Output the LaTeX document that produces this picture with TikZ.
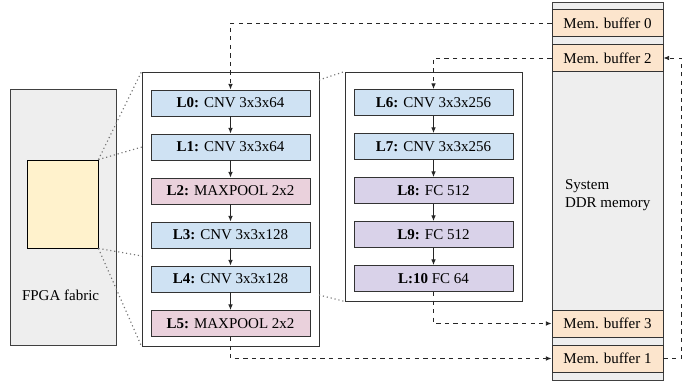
\documentclass[tikz,border=0pt]{standalone}
\usepackage{fontspec}
\setmainfont{Liberation Serif}
\usepackage{tikz}
\usetikzlibrary{arrows.meta,positioning,calc}
\definecolor{cnvblue}{HTML}{CFE2F3}
\definecolor{poolpink}{HTML}{EAD1DC}
\definecolor{fcpurple}{HTML}{D9D2E9}
\definecolor{bufpeach}{HTML}{FCE5CD}
\definecolor{chipyellow}{HTML}{FFF2CC}
\definecolor{fabricgray}{HTML}{EEEEEE}

\begin{document}
\begin{tikzpicture}[x=0.7pt,y=-0.7pt,
    txt/.style={font=\fontsize{10.5}{12.5}\selectfont},
    layer/.style={txt,draw=black!80,semithick,minimum width=111.3pt,minimum height=18.2pt,inner sep=0pt},
    membuf/.style={txt,draw=black!80,semithick,fill=bufpeach,minimum width=77.7pt,minimum height=18.9pt,inner sep=0pt},
    flow/.style={-{Latex[length=4pt,width=3.2pt]},semithick,black!85},
    xfer/.style={flow,dashed},
    zoomline/.style={dotted,thick,black!55}]
    \useasboundingbox (0,0) rectangle (699,385);
    \node[draw=black!75,semithick,fill=fabricgray,minimum width=74.2pt,minimum height=179.2pt] (fabric) at (63,217) {};
    \node[txt,anchor=west] (fabriclbl) at (17,295) {FPGA fabric};
    \node[draw=black,semithick,fill=chipyellow,minimum width=49.7pt,minimum height=61.6pt] (chip) at (62.5,204) {};
    \node[draw=black!80,semithick,minimum width=123.9pt,minimum height=191.8pt] (leftbox) at (230.5,209) {};
    \node[draw=black!80,semithick,minimum width=123.9pt,minimum height=160.3pt] (rightbox) at (433.5,186.5) {};
    \node[draw=black!75,semithick,fill=fabricgray,minimum width=77.7pt,minimum height=264.6pt] (ddr) at (607.5,191) {};
    \node[txt,anchor=west,align=left] (ddrlbl) at (560,195) {System\\DDR memory};

    \node[layer,fill=cnvblue] (L0) at (230.5,103) {\textbf{L0:} CNV 3x3x64};
    \node[layer,fill=cnvblue] (L1) at (230.5,147) {\textbf{L1:} CNV 3x3x64};
    \node[layer,fill=poolpink] (L2) at (230.5,191) {\textbf{L2:} MAXPOOL 2x2};
    \node[layer,fill=cnvblue] (L3) at (230.5,235) {\textbf{L3:} CNV 3x3x128};
    \node[layer,fill=cnvblue] (L4) at (230.5,279) {\textbf{L4:} CNV 3x3x128};
    \node[layer,fill=poolpink] (L5) at (230.5,323.5) {\textbf{L5:} MAXPOOL 2x2};
    \node[layer,fill=cnvblue] (L6) at (433.5,102.5) {\textbf{L6:} CNV 3x3x256};
    \node[layer,fill=cnvblue] (L7) at (433.5,146.5) {\textbf{L7:} CNV 3x3x256};
    \node[layer,fill=fcpurple] (L8) at (433.5,190.5) {\textbf{L8:} FC 512};
    \node[layer,fill=fcpurple] (L9) at (433.5,234.5) {\textbf{L9:} FC 512};
    \node[layer,fill=fcpurple] (L10) at (433.5,278.5) {\textbf{L:10} FC 64};

    \node[membuf] (mb0) at (607.5,23) {Mem. buffer 0};
    \node[membuf] (mb2) at (607.5,58) {Mem. buffer 2};
    \node[membuf] (mb3) at (607.5,323.5) {Mem. buffer 3};
    \node[membuf] (mb1) at (607.5,358.5) {Mem. buffer 1};

    \draw[flow] (L0) -- (L1);
    \draw[flow] (L1) -- (L2);
    \draw[flow] (L2) -- (L3);
    \draw[flow] (L3) -- (L4);
    \draw[flow] (L4) -- (L5);
    \draw[flow] (L6) -- (L7);
    \draw[flow] (L7) -- (L8);
    \draw[flow] (L8) -- (L9);
    \draw[flow] (L9) -- (L10);

    \draw[xfer] (mb0.west) -| (L0.north);
    \draw[xfer] (mb2.west) -| (L6.north);
    \draw[xfer] (L5.south) |- (mb1.west);
    \draw[xfer] (L10.south) |- (mb3.west);
    \draw[xfer] (mb1.east) -- ++(18,0) |- (mb2.east);

    \coordinate (tapA) at (142,147);
    \coordinate (tapB) at (142,256);
    \coordinate (tapC) at (319,80);
    \coordinate (tapD) at (319,295);
    \draw[zoomline] (chip.north east) -- (leftbox.north west);
    \draw[zoomline] (chip.north east) -- (tapA);
    \draw[zoomline] (chip.south east) -- (tapB);
    \draw[zoomline] (chip.south east) -- (leftbox.south west);
    \draw[zoomline] (tapC) -- (rightbox.north west);
    \draw[zoomline] (tapD) -- (rightbox.south west);
\end{tikzpicture}
\end{document}
